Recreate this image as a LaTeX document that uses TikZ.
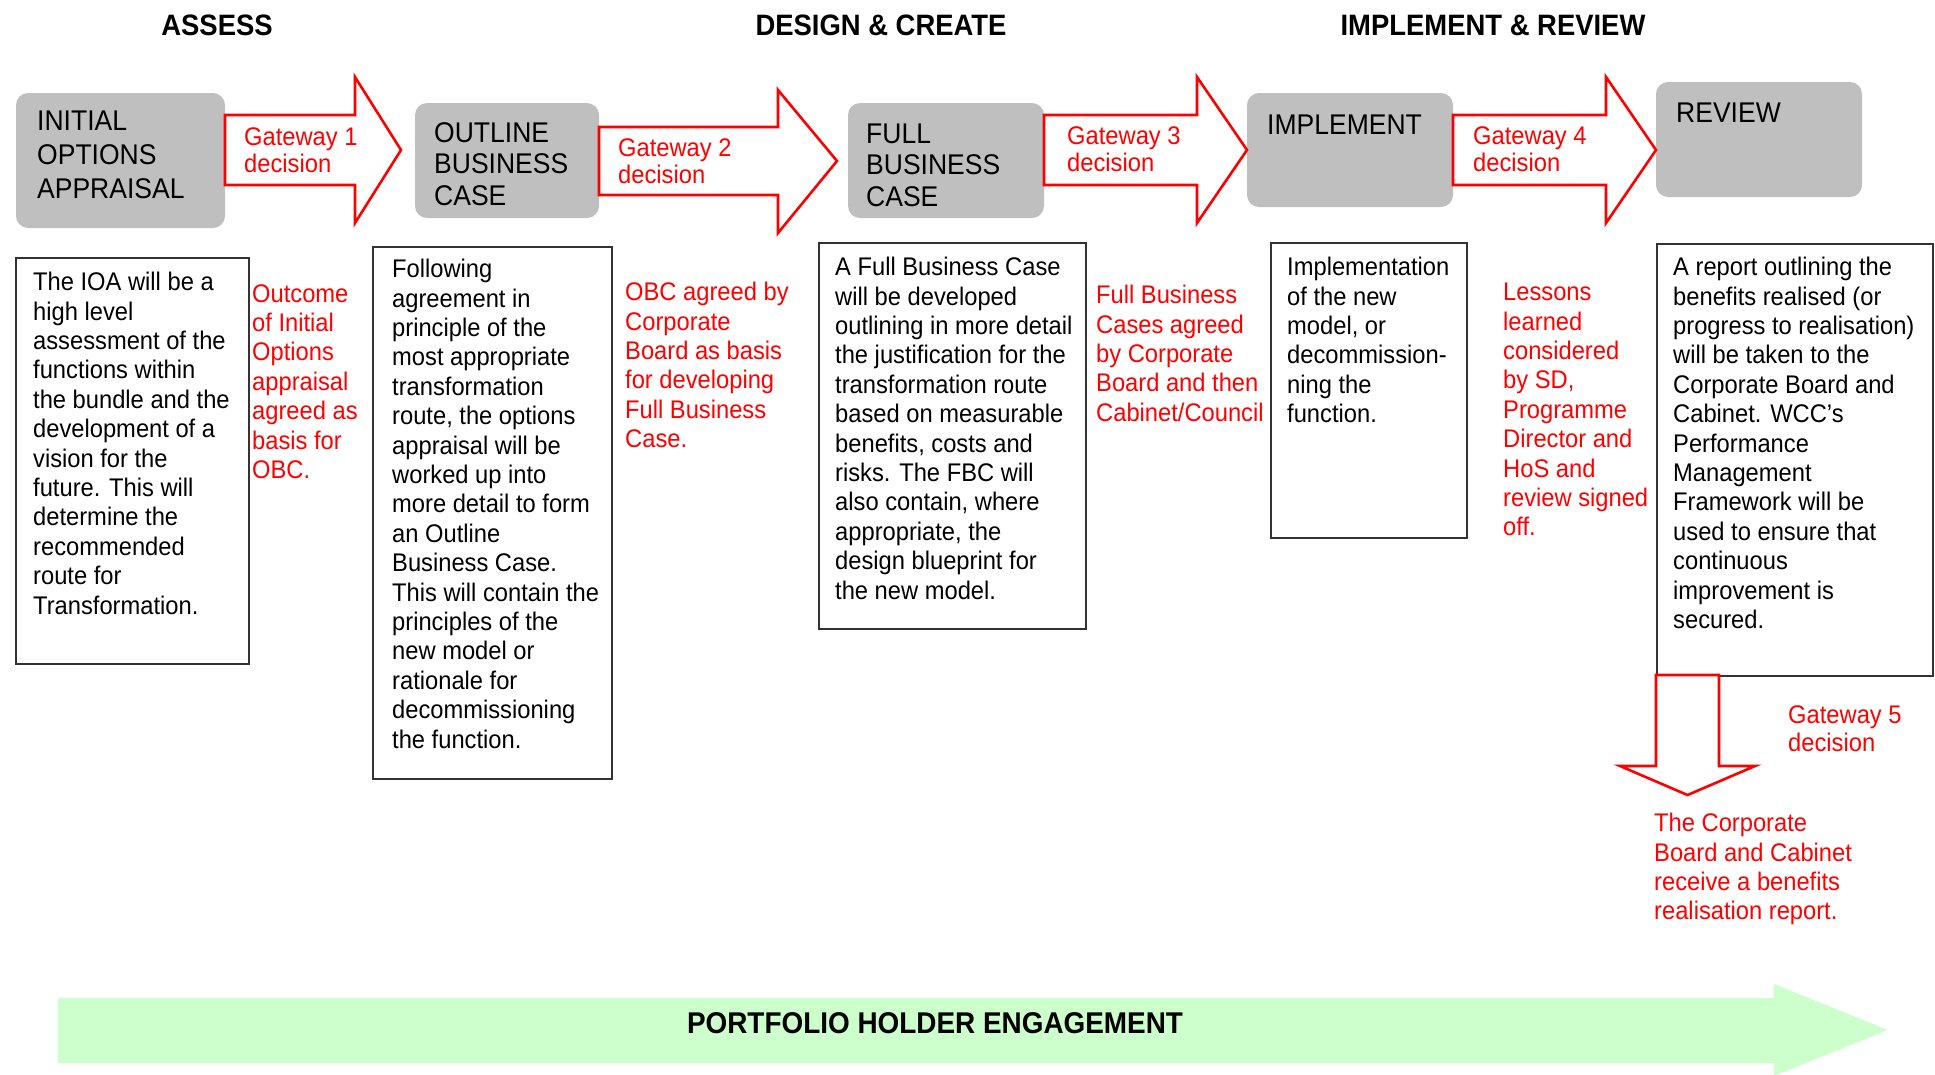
\documentclass[tikz,border=0pt]{standalone}
\usepackage{fontspec}
\setmainfont{Liberation Sans}[FakeStretch=0.93]
\usepackage{tikz}
\usetikzlibrary{
	calc,
	positioning
}
\definecolor{GateRed}{RGB}{255,0,0}
\definecolor{StageGrey}{RGB}{191,191,191}
\definecolor{EngageGreen}{RGB}{204,255,204}

\begin{document}
\begin{tikzpicture}[x=1pt, y=-1pt,
			phase/.style={font=\fontsize{29.5}{32}\selectfont\bfseries, inner sep=0pt},
			stage/.style={fill=StageGrey, rounded corners=12pt, inner sep=0pt},
			stagetext/.style={font=\fontsize{28.5}{31.5}\selectfont, align=left, inner sep=0pt, anchor=west},
			gate/.style={draw=GateRed, line width=2.6pt, fill=white, miter limit=20},
			gatetext/.style={text=GateRed, font=\fontsize{25.5}{27.5}\selectfont, align=left, inner sep=0pt, anchor=west},
			frame/.style={draw=black!80, line width=1.8pt, inner sep=0pt, anchor=north west},
			desc/.style={font=\fontsize{25.5}{29.4}\selectfont, align=left, inner sep=0pt, anchor=north west},
			note/.style={desc, text=GateRed}]
			\useasboundingbox (0,0) rectangle (1935,1074);
			\node[phase] (assess) at (217,25) {ASSESS};
			\node[phase] (design) at (881,25) {DESIGN \& CREATE};
			\node[phase] (review) at (1493,25) {IMPLEMENT \& REVIEW};
			\node[stage, minimum width=209pt, minimum height=135pt] (ioa) at (120.5,160.5) {};
			\node[stage, minimum width=184pt, minimum height=115pt] (obc) at (507,160.5) {};
			\node[stage, minimum width=196pt, minimum height=115pt] (fbc) at (946,160.5) {};
			\node[stage, minimum width=206pt, minimum height=114pt] (impl) at (1350,150) {};
			\node[stage, minimum width=206pt, minimum height=115pt] (rev) at (1759,139.5) {};
			\node[stagetext, font=\fontsize{28.5}{34}\selectfont] (ioaT) at (37,155) {INITIAL\\OPTIONS\\APPRAISAL};
			\node[stagetext] (obcT) at (434,164) {OUTLINE\\BUSINESS\\CASE};
			\node[stagetext] (fbcT) at (866,165) {FULL\\BUSINESS\\CASE};
			\node[stagetext] (implT) at (1267,125) {IMPLEMENT};
			\node[stagetext] (revT) at (1676,113) {REVIEW};
			\draw[gate] (225,115) -- (355,115) -- (355,77) -- (401,150) -- (355,223) -- (355,185) -- (225,185) -- cycle;
			\draw[gate] (599,127) -- (778,127) -- (778,90) -- (837,161) -- (778,233) -- (778,195) -- (599,195) -- cycle;
			\draw[gate] (1044,115) -- (1197,115) -- (1197,77) -- (1247,150) -- (1197,223) -- (1197,185) -- (1044,185) -- cycle;
			\draw[gate] (1453,115) -- (1606,115) -- (1606,77) -- (1656,150) -- (1606,223) -- (1606,185) -- (1453,185) -- cycle;
			\node[gatetext] (gw1) at (244,150) {Gateway 1\\decision};
			\node[gatetext] (gw2) at (618,161) {Gateway 2\\decision};
			\node[gatetext] (gw3) at (1067,149) {Gateway 3\\decision};
			\node[gatetext] (gw4) at (1473,149) {Gateway 4\\decision};
			\node[frame, minimum width=233pt, minimum height=406pt] (ioaBox) at (15,257) {};
			\node[frame, minimum width=239pt, minimum height=532pt] (obcBox) at (372,246) {};
			\node[frame, minimum width=267pt, minimum height=386pt] (fbcBox) at (818,242) {};
			\node[frame, minimum width=196pt, minimum height=295pt] (implBox) at (1270,242) {};
			\node[frame, minimum width=276pt, minimum height=432pt] (revBox) at (1656,243) {};
			\node[desc] (ioaText) at (33,272) {The IOA will be a\\high level\\assessment of the\\functions within\\the bundle and the\\development of a\\vision for the\\future. This will\\determine the\\recommended\\route for\\Transformation.};
			\node[desc] (obcText) at (392,259) {Following\\agreement in\\principle of the\\most appropriate\\transformation\\route, the options\\appraisal will be\\worked up into\\more detail to form\\an Outline\\Business Case.\\This will contain the\\principles of the\\new model or\\rationale for\\decommissioning\\the function.};
			\node[desc] (fbcText) at (835,257) {A Full Business Case\\will be developed\\outlining in more detail\\the justification for the\\transformation route\\based on measurable\\benefits, costs and\\risks. The FBC will\\also contain, where\\appropriate, the\\design blueprint for\\the new model.};
			\node[desc] (implText) at (1287,257) {Implementation\\of the new\\model, or\\decommission-\\ning the\\function.};
			\node[desc] (revText) at (1673,257) {A report outlining the\\benefits realised (or\\progress to realisation)\\will be taken to the\\Corporate Board and\\Cabinet. WCC’s\\Performance\\Management\\Framework will be\\used to ensure that\\continuous\\improvement is\\secured.};
			\node[note] (ioaNote) at (252,284) {Outcome\\of Initial\\Options\\appraisal\\agreed as\\basis for\\OBC.};
			\node[note] (obcNote) at (625,282) {OBC agreed by\\Corporate\\Board as basis\\for developing\\Full Business\\Case.};
			\node[note] (fbcNote) at (1096,285) {Full Business\\Cases agreed\\by Corporate\\Board and then\\Cabinet/Council};
			\node[note] (implNote) at (1503,283) {Lessons\\learned\\considered\\by SD,\\Programme\\Director and\\HoS and\\review signed\\off.};
			\draw[gate] (1656,675) -- (1719,675) -- (1719,766) -- (1755,766) -- (1687.5,795) -- (1620,766) -- (1656,766) -- cycle;
			\node[note, font=\fontsize{25.5}{28}\selectfont] (gw5) at (1788,705) {Gateway 5\\decision};
			\node[note] (revNote) at (1654,813) {The Corporate\\Board and Cabinet\\receive a benefits\\realisation report.};
			\fill[EngageGreen] (58,998) -- (1774,998) -- (1774,984) -- (1888,1030) -- (1774,1076) -- (1774,1063) -- (58,1063) -- cycle;
			\node[font=\fontsize{30}{32}\selectfont\bfseries] (engage) at (935,1023) {PORTFOLIO HOLDER ENGAGEMENT};
		\end{tikzpicture}
\end{document}
